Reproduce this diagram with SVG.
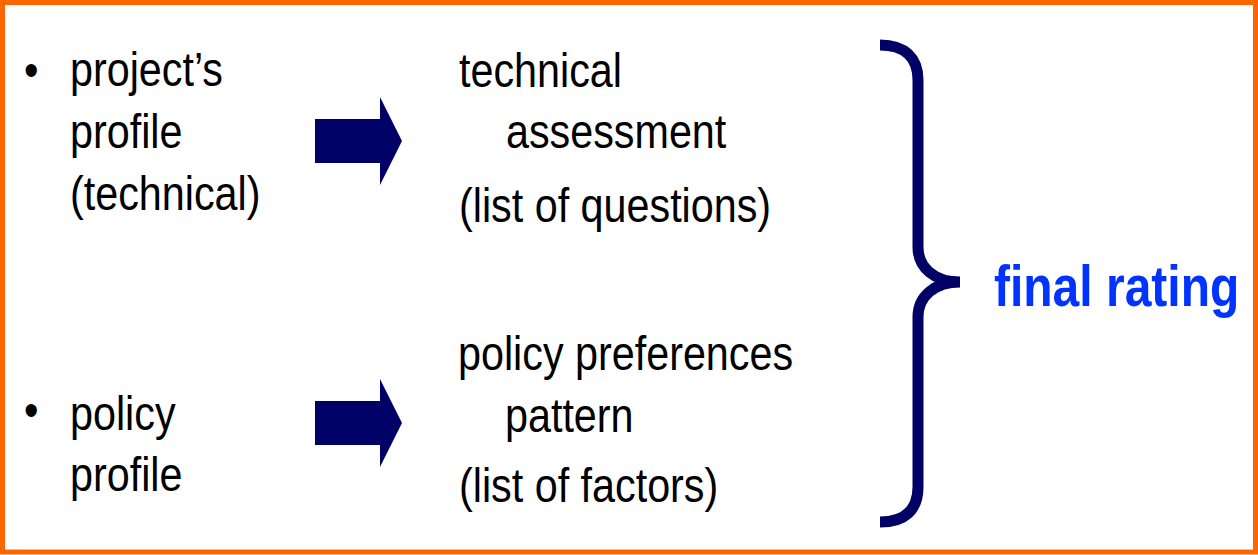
<svg xmlns="http://www.w3.org/2000/svg" width="1258" height="555" viewBox="0 0 1258 555">
<style>
.t{font-family:"Liberation Sans",Arial,sans-serif;font-size:41.3px;fill:#000}
.f{font-family:"Liberation Sans",Arial,sans-serif;font-size:48px;font-weight:bold;fill:#0033ff}
.arr{fill:#000066}
.brace{fill:none;stroke:#000066;stroke-width:11}
</style>
<rect x="0" y="0" width="1258" height="555" fill="#fff"/>
<rect x="2.5" y="2.5" width="1253" height="549.5" fill="none" stroke="#ff6600" stroke-width="5"/>
<g id="project-profile">
<text class="t" transform="translate(24,86) scale(1,1.177)">•</text>
<text class="t" transform="translate(70,86) scale(1,1.177)">project’s</text>
<text class="t" transform="translate(70,148) scale(1,1.177)">profile</text>
<text class="t" transform="translate(70,210) scale(1,1.177)">(technical)</text>
</g>
<g id="policy-profile">
<text class="t" transform="translate(24,426) scale(1,1.177)">•</text>
<text class="t" transform="translate(70,430) scale(1,1.177)">policy</text>
<text class="t" transform="translate(70,491) scale(1,1.177)">profile</text>
</g>
<g id="technical-assessment">
<text class="t" transform="translate(459,87) scale(1,1.177)">technical</text>
<text class="t" transform="translate(506,148) scale(1,1.177)">assessment</text>
<text class="t" transform="translate(459,222) scale(1,1.177)">(list of questions)</text>
</g>
<g id="policy-preferences">
<text class="t" transform="translate(458,370) scale(1,1.177)">policy preferences</text>
<text class="t" transform="translate(505,432) scale(1,1.177)">pattern</text>
<text class="t" transform="translate(459,502) scale(1,1.177)">(list of factors)</text>
</g>
<g id="final-rating">
<text class="f" transform="translate(994,306) scale(1,1.185)">final rating</text>
</g>
<g id="connectors">
<polygon class="arr" points="315,119 380,119 380,97 402,141 380,185 380,163 315,163"/>
<polygon class="arr" points="315,401 380,401 380,379 402,423 380,467 380,445 315,445"/>
<path class="brace" d="M880,45 C905,45 918,58 918,80 L918,247 C918,268 935,282 960,282 C935,282 918,296 918,317 L918,487 C918,510 905,522 880,522"/>
</g>
</svg>
